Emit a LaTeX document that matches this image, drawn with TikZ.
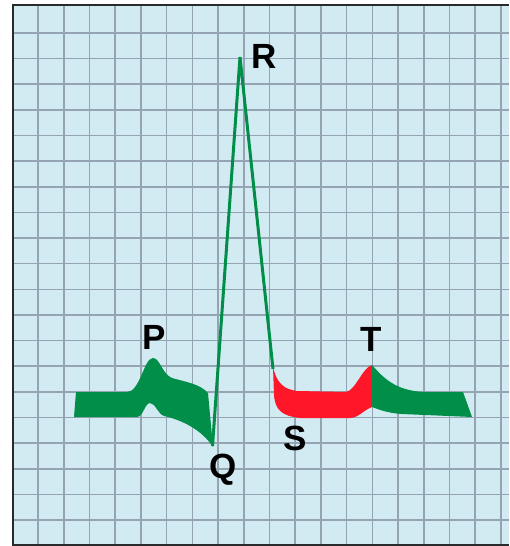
\documentclass[tikz,border=0pt]{standalone}
\usepackage{fontspec}
\setmainfont{Liberation Sans}
\definecolor{bgblue}{RGB}{210,235,243}
\definecolor{gridc}{RGB}{148,164,178}
\definecolor{ecggreen}{RGB}{0,142,72}
\definecolor{ecgred}{RGB}{255,22,40}
\definecolor{borderc}{RGB}{40,42,44}
\tikzset{
  gridline/.style={draw=gridc, line width=1.6pt},
  wavefill/.style={fill=ecggreen, draw=none},
  sfill/.style={fill=ecgred, draw=none},
  lbl/.style={font=\fontsize{35}{40}\selectfont\bfseries, text=black, inner sep=0pt}
}
\begin{document}
\begin{tikzpicture}[x=1pt,y=-1pt]
\useasboundingbox (0,0) rectangle (509,546);
\fill[white] (0,0) rectangle (509,546);
\fill[bgblue] (13,5) rectangle (509,545);
% grid
\foreach \k in {0,...,18} {
  \draw[gridline] ({38+25.72*\k},5) -- ({38+25.72*\k},545);
}
\foreach \k in {0,...,19} {
  \draw[gridline] (13,{33+25.63*\k}) -- (509,{33+25.63*\k});
}
% border
\draw[borderc, line width=2.6pt] (509,5) -- (13,5) -- (13,545) -- (509,545);
% P-Q green region
\path[wavefill] (76,392) -- (127,392)
  .. controls (140,392) and (144,358) .. (153,358)
  .. controls (160,358) and (162,374) .. (172,378)
  .. controls (186,382) and (200,384) .. (208,393)
  -- (213,447)
  .. controls (202,430) and (182,420) .. (164,416)
  .. controls (158,414) and (155,403) .. (150,403)
  .. controls (145,403) and (143,417) .. (137,417)
  -- (74,417) -- cycle;
% S red region
\path[sfill] (273,367)
  .. controls (277,384) and (284,389) .. (297,391)
  -- (346,392)
  .. controls (356,390) and (362,368) .. (372,365)
  -- (372,407)
  .. controls (364,410) and (358,418) .. (350,418)
  -- (300,418)
  .. controls (282,416) and (275,410) .. (274,395) -- cycle;
% T green region
\path[wavefill] (372,365)
  .. controls (382,376) and (394,391) .. (425,392)
  -- (463,392) -- (472,417)
  -- (402,414)
  .. controls (386,413) and (378,409) .. (372,407) -- cycle;
% QRS line
\coordinate (Qpt) at (212.5,446);
\coordinate (Rpt) at (240,57);
\coordinate (Spt) at (273,369);
\draw[ecggreen, line width=3pt, line join=miter] (Qpt) -- (Rpt) -- (Spt);
% labels
\node[lbl] (P) at (154,337) {P};
\node[lbl] (R) at (264,56) {R};
\node[lbl] (Q) at (223,470) {Q};
\node[lbl] (S) at (295,438) {S};
\node[lbl] (T) at (371,339) {T};
\end{tikzpicture}
\end{document}
